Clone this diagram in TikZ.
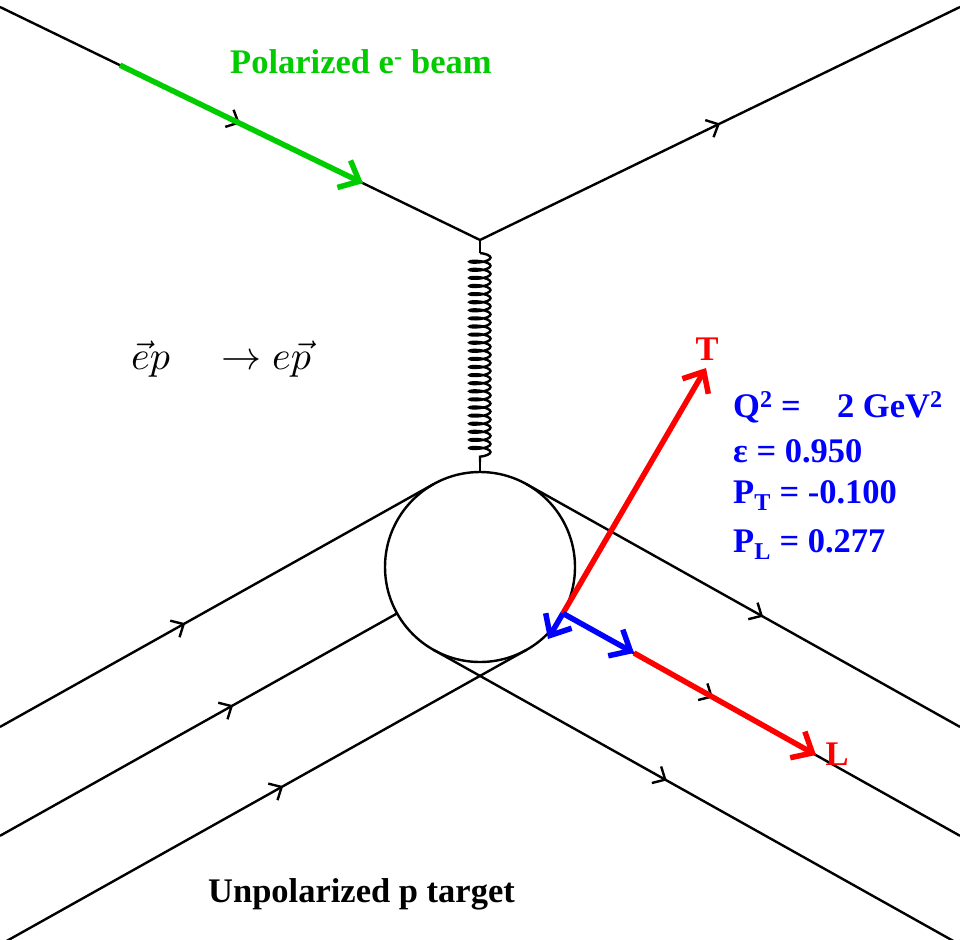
\documentclass[tikz,border=0pt]{standalone}
\usepackage{graphicx}
\usepackage{fontspec}
\setmainfont{Liberation Serif}
\usetikzlibrary{arrows.meta,decorations.markings,decorations.pathmorphing}
\definecolor{pgreen}{RGB}{0,204,0}
\definecolor{pred}{RGB}{255,0,0}
\definecolor{pblue}{RGB}{0,0,255}
\begin{document}
\begin{tikzpicture}[x=1pt,y=-1pt,
  wire/.style={line width=2.4pt,black},
  midarrow/.style={postaction={decorate},decoration={markings,
    mark=at position #1 with {\arrow{Straight Barb[length=10pt,width=19pt]}}}},
  bigarrow/.style={line width=5.5pt,-{Straight Barb[length=17pt,width=30pt]}},
  lab/.style={font=\fontsize{34.5}{40}\selectfont\bfseries,inner sep=0pt,anchor=base west}]
\useasboundingbox (0,0) rectangle (960,939);
\clip (0,0) rectangle (960,939);
% key points
\coordinate (ein) at (0,7);
\coordinate (vtx) at (480,240);
\coordinate (eout) at (960,7);
\coordinate (gs) at (120,65.2);
\coordinate (ge) at (363,183.2);
\node[circle,draw,line width=2.4pt,minimum size=190pt,inner sep=0pt] (blob) at (480,567) {};
\coordinate (TL) at (433.6,484.1);
\coordinate (TR) at (526.4,484.1);
\coordinate (BL) at (433.6,649.9);
\coordinate (BR) at (526.4,649.9);
\coordinate (ML) at (397.1,613.4);
\coordinate (MR) at (562.9,613.4);
\coordinate (L1) at (0,726.9);
\coordinate (L2) at (0,835.8);
\coordinate (L3) at (0,944.7);
\coordinate (RA) at (960,726.9);
\coordinate (RB) at (960,835.8);
\coordinate (RC) at (960,944.7);
\coordinate (Tend) at (706,368);
\coordinate (PTend) at (548,639);
\coordinate (PLend) at (634,653);
\coordinate (Lend) at (816,755);
% electron lines
\draw[wire,midarrow=0.5] (ein) -- (vtx);
\draw[wire,midarrow=0.5] (vtx) -- (eout);
% photon
\draw[wire] (vtx) -- ++(0,13) coordinate (sp1);
\draw[wire,decorate,decoration={coil,amplitude=10.5pt,segment length=8.1pt,aspect=0.25}] (sp1) -- (480,462) coordinate (sp2);
\draw[wire] (sp2) -- (blob.north);
% proton lines
\draw[wire,midarrow=0.427] (L1) -- (TL);
\draw[wire,midarrow=0.587] (L2) -- (ML);
\draw[wire,midarrow=0.538] (L3) -- (BR);
\draw[wire,midarrow=0.546] (TR) -- (RA);
\draw[wire,midarrow=0.378] (MR) -- (RB);
\draw[wire,midarrow=0.443] (BL) -- (RC);
% coloured arrows
\draw[bigarrow,pgreen] (gs) -- (ge);
\draw[bigarrow,pred] (MR) -- (Tend);
\draw[bigarrow,pred] (PLend) -- (Lend);
\draw[bigarrow,pblue] (MR) -- (PTend);
\draw[bigarrow,pblue] (MR) -- (PLend);
% labels
\node[lab,pgreen] (beam) at (230,74) {Polarized e\textsuperscript{-} beam};
\node[lab] (targ) at (208,902) {Unpolarized p target};
\node[lab,pred,anchor=center] (Tlab) at (707,349) {T};
\node[lab,pred,anchor=center] (Llab) at (837,754) {L};
\node[lab,pblue] (q2) at (733,417) {Q\textsuperscript{2} =\hspace{0.8em} 2 GeV\textsuperscript{2}};
\node[lab,pblue] (eps) at (733,462) {ε = 0.950};
\node[lab,pblue] (pt) at (733,503) {P\textsubscript{T} = -0.100};
\node[lab,pblue] (pl) at (733,552) {P\textsubscript{L} = 0.277};
\node[inner sep=0pt,anchor=base west] (reac) at (131,369) {\scalebox{4}{$\vec{e}p\quad\rightarrow e\vec{p}$}};
\end{tikzpicture}
\end{document}
